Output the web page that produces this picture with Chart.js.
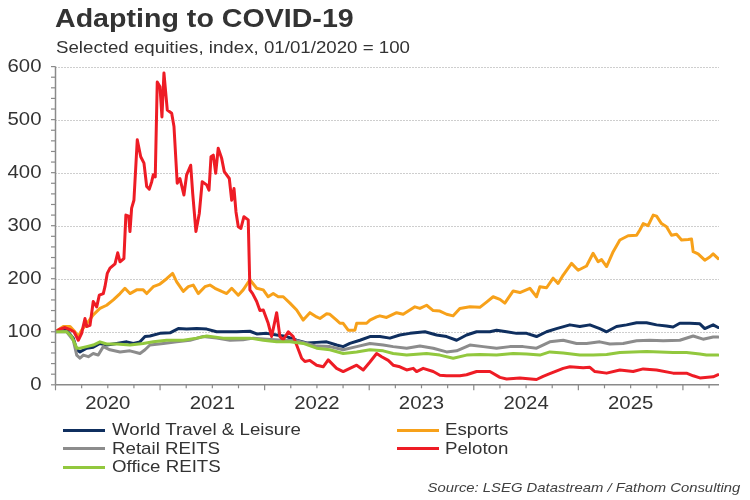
<!DOCTYPE html>
<html><head><meta charset="utf-8">
<script src="https://cdn.jsdelivr.net/npm/chart.js@4.4.1/dist/chart.umd.min.js"></script>
<style>
html,body{margin:0;padding:0;background:#fff;}
#wrap{position:relative;width:750px;height:500px;overflow:hidden;font-family:"Liberation Sans",Arial,sans-serif;color:#333;}
canvas{position:absolute;left:0;top:0;}
.t{position:absolute;white-space:nowrap;transform-origin:0 0;transform:scaleX(1.1);}
#title{left:55px;top:5px;font-size:26px;font-weight:bold;line-height:26px;color:#333;}
#sub{left:56px;top:38.5px;font-size:17px;line-height:17px;}
#source{right:10px;left:auto;top:481px;font-size:13.5px;line-height:14px;font-style:italic;transform-origin:100% 0;color:#404040;}
.sw{position:absolute;width:42px;height:3px;}
.lt{position:absolute;font-size:17px;line-height:18px;white-space:nowrap;transform-origin:0 50%;transform:scaleX(1.1);}
</style></head><body>
<div id="wrap">
<canvas id="c" width="750" height="500"></canvas>
<div id="title" class="t">Adapting to COVID-19</div>
<div id="sub" class="t">Selected equities, index, 01/01/2020 = 100</div>
<div id="legend"></div>
<div id="source" class="t">Source: LSEG Datastream / Fathom Consulting</div>
</div>
<script>
// ---- data (time in decimal years, index 01/01/2020 = 100) ----
const yTicks = [0,100,200,300,400,500,600];
const yearLabels = ['2020','2021','2022','2023','2024','2025'];
const seriesNames = ['World Travel & Leisure','Esports','Retail REITS','Peloton','Office REITS'];
const seriesColors = ['#0f2f5f','#f7a11a','#8c8c8c','#ee1c25','#92c83e'];

const tWorld = [2020.000,2020.107,2020.170,2020.203,2020.234,2020.298,2020.361,2020.425,2020.489,2020.585,2020.681,2020.744,2020.808,2020.856,2020.903,2020.999,2021.095,2021.174,2021.254,2021.350,2021.446,2021.541,2021.637,2021.732,2021.859,2021.924,2022.019,2022.115,2022.210,2022.306,2022.402,2022.497,2022.593,2022.688,2022.751,2022.815,2022.911,2023.007,2023.102,2023.198,2023.293,2023.389,2023.533,2023.644,2023.740,2023.836,2023.931,2024.027,2024.154,2024.218,2024.314,2024.409,2024.505,2024.600,2024.696,2024.791,2024.919,2025.014,2025.110,2025.205,2025.270,2025.365,2025.461,2025.557,2025.652,2025.748,2025.843,2025.906,2025.970,2026.066,2026.162,2026.209,2026.289,2026.337];
const vWorld = [100,103,88,66,62,69,71,78,75,78,81,78,81,91,92,97,98,106,105,106,105,100,100,100,101,96,97,94,91,84,79,80,81,75,72,78,84,91,91,88,94,97,100,94,91,84,94,100,100,103,100,97,97,91,100,106,113,110,113,106,100,110,113,117,117,113,111,109,116,116,115,106,113,108];

const tEsports = [2020.000,2020.075,2020.139,2020.186,2020.218,2020.250,2020.298,2020.361,2020.425,2020.489,2020.553,2020.617,2020.664,2020.712,2020.776,2020.839,2020.872,2020.935,2020.999,2021.063,2021.120,2021.159,2021.222,2021.270,2021.317,2021.365,2021.429,2021.477,2021.525,2021.589,2021.637,2021.685,2021.748,2021.795,2021.859,2021.924,2021.987,2022.034,2022.082,2022.130,2022.178,2022.242,2022.306,2022.369,2022.433,2022.497,2022.529,2022.593,2022.624,2022.688,2022.720,2022.751,2022.799,2022.863,2022.880,2022.975,2023.007,2023.071,2023.102,2023.166,2023.262,2023.325,2023.437,2023.485,2023.549,2023.612,2023.676,2023.740,2023.803,2023.867,2023.963,2024.058,2024.122,2024.185,2024.250,2024.297,2024.377,2024.441,2024.536,2024.600,2024.632,2024.696,2024.759,2024.806,2024.855,2024.935,2024.998,2025.078,2025.141,2025.189,2025.222,2025.270,2025.333,2025.397,2025.476,2025.557,2025.588,2025.620,2025.667,2025.716,2025.748,2025.795,2025.843,2025.891,2025.939,2025.987,2026.050,2026.082,2026.098,2026.145,2026.209,2026.257,2026.289,2026.337];
const vEsports = [100,110,110,100,91,103,115,132,144,150,160,172,182,172,179,179,172,185,190,200,210,194,176,185,188,172,185,188,182,176,172,182,169,179,198,182,179,166,172,166,166,154,141,122,136,128,125,134,133,122,116,116,103,103,116,116,122,128,130,127,136,133,147,144,150,140,139,133,130,144,147,146,156,166,161,154,177,174,182,166,185,183,201,191,207,229,216,224,248,232,236,223,251,273,281,282,292,304,300,320,318,304,298,282,284,273,274,275,251,247,235,241,247,238];

const tRetail = [2020.000,2020.107,2020.170,2020.203,2020.234,2020.266,2020.314,2020.361,2020.409,2020.457,2020.521,2020.617,2020.712,2020.808,2020.856,2020.903,2021.031,2021.159,2021.286,2021.413,2021.541,2021.668,2021.795,2021.891,2022.019,2022.178,2022.306,2022.402,2022.497,2022.624,2022.751,2022.880,2023.007,2023.134,2023.229,2023.358,2023.485,2023.612,2023.740,2023.836,2023.963,2024.090,2024.218,2024.345,2024.472,2024.600,2024.727,2024.855,2024.983,2025.078,2025.205,2025.301,2025.428,2025.557,2025.684,2025.811,2025.970,2026.098,2026.193,2026.289,2026.337];
const vRetail = [100,100,84,56,50,56,53,59,56,72,66,62,64,59,66,75,78,81,84,91,88,84,85,88,86,84,83,78,73,72,66,72,78,75,72,69,73,69,62,64,75,72,69,72,72,69,81,84,78,78,81,77,78,83,84,83,84,92,86,90,90];

const tPeloton = [2020.000,2020.043,2020.091,2020.139,2020.177,2020.218,2020.250,2020.282,2020.298,2020.330,2020.361,2020.394,2020.419,2020.457,2020.473,2020.495,2020.521,2020.569,2020.595,2020.617,2020.654,2020.673,2020.700,2020.712,2020.728,2020.750,2020.782,2020.815,2020.846,2020.872,2020.897,2020.920,2020.935,2020.954,2020.973,2020.999,2021.018,2021.037,2021.069,2021.111,2021.133,2021.164,2021.190,2021.228,2021.254,2021.293,2021.312,2021.343,2021.375,2021.403,2021.446,2021.468,2021.487,2021.509,2021.532,2021.556,2021.589,2021.614,2021.662,2021.685,2021.707,2021.726,2021.748,2021.773,2021.802,2021.843,2021.859,2021.885,2021.924,2021.955,2021.987,2022.034,2022.067,2022.115,2022.146,2022.178,2022.226,2022.273,2022.306,2022.354,2022.385,2022.433,2022.497,2022.560,2022.608,2022.688,2022.751,2022.815,2022.880,2022.943,2023.007,2023.071,2023.119,2023.182,2023.229,2023.293,2023.358,2023.421,2023.453,2023.516,2023.612,2023.676,2023.740,2023.867,2023.931,2024.027,2024.154,2024.250,2024.314,2024.441,2024.600,2024.663,2024.727,2024.855,2024.919,2025.046,2025.110,2025.158,2025.270,2025.397,2025.524,2025.620,2025.748,2025.906,2026.034,2026.098,2026.162,2026.289,2026.337];
const vPeloton = [100,105,108,104,100,84,97,125,110,112,157,147,169,172,185,210,220,228,249,232,238,320,318,289,333,348,462,430,418,374,369,383,396,392,571,562,505,588,518,512,487,380,389,358,396,414,361,289,323,383,377,367,430,433,399,446,427,402,389,348,370,326,298,295,317,311,179,172,157,140,141,116,91,136,91,85,100,91,75,50,44,46,37,34,47,31,25,31,37,28,43,59,53,46,37,34,28,31,25,31,25,18,17,17,19,25,25,14,11,13,10,16,21,31,34,32,33,25,22,28,25,30,28,22,22,17,13,15,19];

const tOffice = [2020.000,2020.107,2020.155,2020.203,2020.234,2020.298,2020.361,2020.425,2020.489,2020.585,2020.712,2020.839,2020.935,2021.063,2021.222,2021.350,2021.446,2021.604,2021.732,2021.859,2021.987,2022.115,2022.242,2022.369,2022.497,2022.624,2022.751,2022.880,2023.007,2023.134,2023.229,2023.358,2023.549,2023.676,2023.803,2023.931,2024.058,2024.218,2024.377,2024.505,2024.632,2024.727,2024.855,2025.014,2025.141,2025.270,2025.397,2025.524,2025.652,2025.779,2025.906,2026.034,2026.162,2026.225,2026.337];
const vOffice = [100,100,91,69,69,72,75,81,77,77,75,78,81,84,84,88,92,88,88,88,84,81,81,78,69,66,59,62,66,64,59,56,59,56,50,56,57,56,59,58,56,62,60,56,56,57,61,62,63,62,61,61,58,56,56];

const seriesT = [tWorld,tEsports,tRetail,tPeloton,tOffice];
const seriesV = [vWorld,vEsports,vRetail,vPeloton,vOffice];
const drawOrder = [5,4,3,2,1];

const datasets = seriesNames.map((name,i)=>({
  label:name,
  data: seriesT[i].map((t,j)=>({x:t,y:seriesV[i][j]})),
  borderColor:seriesColors[i],
  backgroundColor:seriesColors[i],
  borderWidth:3,
  pointRadius:0,
  tension:0,
  borderJoinStyle:'round',
  borderCapStyle:'round',
  order:drawOrder[i]
}));

const AXIS = '#8a8a8a';
const LABEL_FONT = '18.5px "Liberation Sans", Arial, sans-serif';

const furniture = {
  id:'furniture',
  beforeDatasetsDraw(chart){
    const ctx = chart.ctx, a = chart.chartArea, y = chart.scales.y;
    ctx.save();
    ctx.strokeStyle = '#9c9c9c'; ctx.lineWidth = 1; ctx.setLineDash([1,2]);
    yTicks.forEach(v=>{ if(v===0) return;
      const py = Math.round(y.getPixelForValue(v))+0.5;
      ctx.beginPath(); ctx.moveTo(a.left,py); ctx.lineTo(a.right,py); ctx.stroke();
    });
    ctx.restore();
  },
  afterDatasetsDraw(chart){
    const ctx = chart.ctx, a = chart.chartArea, x = chart.scales.x, y = chart.scales.y;
    ctx.save();
    ctx.strokeStyle = AXIS; ctx.lineWidth = 1.5; ctx.setLineDash([]);
    // axes lines
    ctx.beginPath(); ctx.moveTo(a.left,a.top); ctx.lineTo(a.left,a.bottom); ctx.stroke();
    ctx.beginPath(); ctx.moveTo(a.left,a.bottom); ctx.lineTo(a.right,a.bottom); ctx.stroke();
    // y minor/major tick marks every 20
    ctx.lineWidth = 1.2;
    for(let v=0; v<=600; v+=20){
      const py = y.getPixelForValue(v);
      ctx.beginPath(); ctx.moveTo(a.left-4.5,py); ctx.lineTo(a.left,py); ctx.stroke();
    }
    // x quarterly tick marks
    for(let q=0; q<=25; q++){
      const t = 2020 + q/4; if(t > x.max) break;
      const px = x.getPixelForValue(t);
      const len = (q%4===0) ? 5.5 : 3.5;
      ctx.beginPath(); ctx.moveTo(px,a.bottom); ctx.lineTo(px,a.bottom+len); ctx.stroke();
    }
    // labels
    ctx.fillStyle = '#333'; ctx.font = LABEL_FONT; ctx.textBaseline = 'middle';
    yTicks.forEach(v=>{
      const py = y.getPixelForValue(v);
      ctx.save(); ctx.translate(a.left-14, py+0.5); ctx.scale(1.1,1);
      ctx.textAlign='right'; ctx.fillText(String(v),0,0); ctx.restore();
    });
    yearLabels.forEach(lab=>{
      const px = x.getPixelForValue(Number(lab)+0.5);
      ctx.save(); ctx.translate(px, a.bottom+19); ctx.scale(1.1,1);
      ctx.textAlign='center'; ctx.fillText(lab,0,0); ctx.restore();
    });
    ctx.restore();
  }
};

const chart = new Chart(document.getElementById('c'), {
  type:'line',
  data:{datasets},
  options:{
    responsive:false, animation:false, devicePixelRatio:1,
    layout:{padding:{left:55.5,right:31,top:66.6,bottom:115.2}},
    plugins:{legend:{display:false},tooltip:{enabled:false}},
    scales:{
      x:{type:'linear',min:2020,max:2026.345,grid:{display:false},ticks:{display:false},border:{display:false},afterFit(s){s.height=0;}},
      y:{type:'linear',min:0,max:600,grid:{display:false},ticks:{display:false},border:{display:false},afterFit(s){s.width=0;}}
    }
  },
  plugins:[furniture]
});

// HTML legend built from chart datasets (row-major, two columns)
const legendCols = [63,397];
const legendRows = [430,448.5,467];
const leg = document.getElementById('legend');
chart.data.datasets.forEach((ds,i)=>{
  const cx = legendCols[i%2], cy = legendRows[Math.floor(i/2)];
  const sw = document.createElement('div');
  sw.className='sw'; sw.style.left=cx+'px'; sw.style.top=(cy-1.5)+'px'; sw.style.background=ds.borderColor;
  const tx = document.createElement('div');
  tx.className='lt'; tx.textContent=ds.label; tx.style.left=(cx+(i%2?48:49))+'px'; tx.style.top=(cy-9)+'px';
  leg.appendChild(sw); leg.appendChild(tx);
});
</script>
</body></html>
